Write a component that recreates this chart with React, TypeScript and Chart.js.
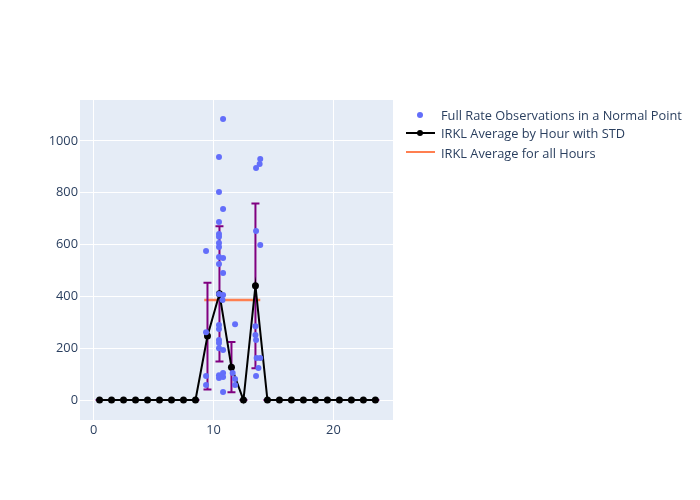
import React, { useEffect, useRef } from "react";
import { Chart, registerables } from "chart.js";

Chart.register(...registerables);

const hours = [0.5, 1.5, 2.5, 3.5, 4.5, 5.5, 6.5, 7.5, 8.5, 9.5, 10.5, 11.5, 12.5, 13.5, 14.5, 15.5, 16.5, 17.5, 18.5, 19.5, 20.5, 21.5, 22.5, 23.5];
const hourAvg = [0, 0, 0, 0, 0, 0, 0, 0, 0, 247, 410, 127, 0, 441, 0, 0, 0, 0, 0, 0, 0, 0, 0, 0];
const hourStd = [0, 0, 0, 0, 0, 0, 0, 0, 0, 206, 261, 97, 0, 318, 0, 0, 0, 0, 0, 0, 0, 0, 0, 0];

const obsX = [10.8, 10.46, 10.46, 10.8, 10.46, 10.46, 10.46, 10.46, 10.46, 9.38, 10.46, 10.8, 10.46, 10.8, 10.46, 10.8, 10.75, 9.38, 10.46, 10.46, 11.8, 10.46, 10.46, 10.46, 10.8, 10.46, 10.46, 10.8, 10.8, 9.38, 9.38, 10.8, 11.6, 11.8, 11.8, 13.9, 13.85, 13.55, 13.55, 13.9, 13.5, 13.5, 13.55, 13.6, 13.9, 13.75, 13.55];
const obsY = [1085, 938, 803, 737, 687, 641, 630, 606, 591, 575, 552, 548, 525, 490, 409, 405, 386, 262, 290, 274, 293, 232, 220, 200, 193, 96, 85, 104, 89, 93, 58, 31, 104, 81, 58, 930, 911, 896, 652, 598, 285, 251, 232, 162, 162, 124, 93];

const allHoursX = [9.23, 13.9];
const allHoursY = [386, 386];

const xTicks = [0, 10, 20];
const yTicks = [0, 200, 400, 600, 800, 1000];

const FONT = "'Open Sans', sans-serif";
const TEXT = "#2a3f5f";

export default function App() {
  const ref = useRef<HTMLCanvasElement>(null);
  useEffect(() => {
    if (!ref.current) return;
    const errorBars = {
      id: "errorBars",
      beforeDatasetDraw(chart: any, args: any) {
        if (args.index !== 1) return;
        const ctx = chart.ctx;
        const xs = chart.scales.x;
        const ys = chart.scales.y;
        ctx.save();
        ctx.strokeStyle = "#800080";
        ctx.lineWidth = 2;
        hours.forEach((h, i) => {
          const px = xs.getPixelForValue(h);
          const top = ys.getPixelForValue(hourAvg[i] + hourStd[i]);
          const bot = ys.getPixelForValue(hourAvg[i] - hourStd[i]);
          ctx.beginPath();
          ctx.moveTo(px, top);
          ctx.lineTo(px, bot);
          ctx.moveTo(px - 4, top);
          ctx.lineTo(px + 4, top);
          ctx.moveTo(px - 4, bot);
          ctx.lineTo(px + 4, bot);
          ctx.stroke();
        });
        ctx.restore();
      },
    };
    const bg = {
      id: "bg",
      beforeDraw(chart: any) {
        const { ctx, chartArea } = chart;
        ctx.save();
        ctx.fillStyle = "#E5ECF6";
        ctx.fillRect(chartArea.left, chartArea.top, chartArea.right - chartArea.left, chartArea.bottom - chartArea.top);
        ctx.restore();
      },
    };
    const chart = new Chart(ref.current, {
      type: "scatter",
      data: {
        datasets: [
          {
            label: "Full Rate Observations in a Normal Point",
            data: obsX.map((x, i) => ({ x, y: obsY[i] })),
            backgroundColor: "#636efa",
            borderWidth: 0,
            pointRadius: 3,
            pointBorderWidth: 0,
            showLine: false,
          },
          {
            label: "IRKL Average by Hour with STD",
            data: hours.map((x, i) => ({ x, y: hourAvg[i] })),
            borderColor: "#000000",
            backgroundColor: "#000000",
            borderWidth: 2,
            pointRadius: 3.5,
            pointBorderWidth: 0,
            showLine: true,
          },
          {
            label: "IRKL Average for all Hours",
            data: allHoursX.map((x, i) => ({ x, y: allHoursY[i] })),
            borderColor: "#FF7F50",
            backgroundColor: "#FF7F50",
            borderWidth: 2.5,
            pointRadius: 0,
            showLine: true,
          },
        ],
      },
      options: {
        animation: false,
        responsive: false,
        layout: { padding: { top: 100, right: 307, bottom: 0, left: 0 } },
        plugins: { legend: { display: false }, tooltip: { enabled: false } },
        scales: {
          x: {
            type: "linear",
            min: -1.13,
            max: 24.97,
            afterBuildTicks: (s: any) => {
              s.ticks = xTicks.map((v) => ({ value: v }));
            },
            afterFit: (s: any) => {
              s.height = 80;
            },
            grid: { color: "#ffffff", lineWidth: 1, drawTicks: false },
            border: { display: false },
            ticks: { color: TEXT, font: { family: FONT, size: 12.8 }, padding: 3, maxRotation: 0, callback: (v: any) => String(v) },
          },
          y: {
            type: "linear",
            min: -77,
            max: 1158,
            afterBuildTicks: (s: any) => {
              s.ticks = yTicks.map((v) => ({ value: v }));
            },
            afterFit: (s: any) => {
              s.width = 80;
            },
            grid: { color: "#ffffff", lineWidth: 1, drawTicks: false },
            border: { display: false },
            ticks: { color: TEXT, font: { family: FONT, size: 12.8 }, padding: 2, callback: (v: any) => String(v) },
          },
        },
      },
      plugins: [bg, errorBars],
    });
    return () => chart.destroy();
  }, []);

  const itemStyle: React.CSSProperties = {
    position: "absolute",
    left: 441,
    fontFamily: FONT,
    fontSize: 12.8,
    color: TEXT,
    whiteSpace: "nowrap",
    lineHeight: "16px",
  };
  return (
    <div style={{ position: "absolute", left: 0, top: 0, width: 700, height: 500, background: "#fff" }}>
      <canvas ref={ref} width={700} height={500} style={{ display: "block" }} />
      <div style={{ position: "absolute", left: 417, top: 112, width: 6, height: 6, borderRadius: 3, background: "#636efa" }} />
      <div style={{ ...itemStyle, top: 107 }}>Full Rate Observations in a Normal Point</div>
      <div style={{ position: "absolute", left: 406, top: 132, width: 29, height: 2, background: "#000" }} />
      <div style={{ position: "absolute", left: 417, top: 130, width: 6, height: 6, borderRadius: 3, background: "#000" }} />
      <div style={{ ...itemStyle, top: 125 }}>IRKL Average by Hour with STD</div>
      <div style={{ position: "absolute", left: 406, top: 151, width: 29, height: 2, background: "#FF7F50" }} />
      <div style={{ ...itemStyle, top: 145 }}>IRKL Average for all Hours</div>
    </div>
  );
}
